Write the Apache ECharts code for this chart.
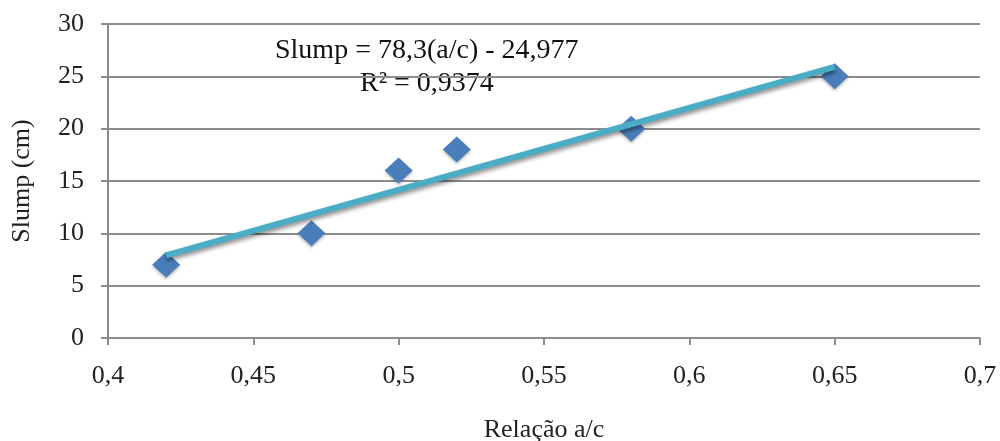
<!DOCTYPE html>
<html>
<head>
<meta charset="utf-8">
<script src="https://cdn.jsdelivr.net/npm/echarts@6/dist/echarts.min.js"></script>
<style>html,body{margin:0;padding:0;background:#fff}#c{width:1000px;height:441px}</style>
</head>
<body>
<div id="c"></div>
<script>
var ratioAC = [0.42, 0.47, 0.50, 0.52, 0.58, 0.65];
var slump = [7, 10, 16, 18, 20, 25];
var trendX = [0.42, 0.65];
var trendY = [7.9, 25.9];
var eqText = 'Slump = 78,3(a/c) - 24,977';
var r2Text = 'R² = 0,9374';

var pts = ratioAC.map(function (x, i) { return [x, slump[i]]; });
var trend = trendX.map(function (x, i) { return [x, trendY[i]]; });
var font = '"Liberation Serif", "Times New Roman", serif';
var chart = echarts.init(document.getElementById('c'));
chart.setOption({
  animation: false,
  backgroundColor: '#fff',
  grid: { left: 108, right: 20, top: 24, bottom: 103, containLabel: false, outerBoundsMode: 'none' },
  xAxis: {
    type: 'value', min: 0.4, max: 0.7, interval: 0.05,
    name: 'Relação a/c', nameLocation: 'middle', nameGap: 79,
    nameTextStyle: { fontFamily: font, fontSize: 26, color: '#222' },
    axisLine: { show: true, lineStyle: { color: '#8c8c8c', width: 2 } },
    axisTick: { show: true, length: 7, lineStyle: { color: '#8c8c8c', width: 2 } },
    splitLine: { show: false },
    axisLabel: { fontFamily: font, fontSize: 26, color: '#222', margin: 25,
      formatter: function (v) { return String(+v.toFixed(2)).replace('.', ','); } }
  },
  yAxis: {
    type: 'value', min: 0, max: 30, interval: 5,
    name: 'Slump (cm)', nameLocation: 'middle', nameGap: 73,
    nameTextStyle: { fontFamily: font, fontSize: 26, color: '#222' },
    axisLine: { show: true, lineStyle: { color: '#8c8c8c', width: 2 } },
    axisTick: { show: true, inside: false, length: 7, lineStyle: { color: '#8c8c8c', width: 2 } },
    splitLine: { show: true, lineStyle: { color: '#8c8c8c', width: 2 } },
    axisLabel: { fontFamily: font, fontSize: 26, color: '#222', margin: 24 }
  },
  series: [
    {
      type: 'scatter', data: pts, symbol: 'diamond', symbolSize: [28, 26],
      itemStyle: { color: '#4A7EBB', opacity: 1, shadowColor: 'rgba(0,0,0,0.25)', shadowBlur: 3, shadowOffsetY: 2 },
      z: 2
    },
    {
      type: 'line', data: trend, symbol: 'none',
      lineStyle: { color: '#4BACC6', width: 6, shadowColor: 'rgba(0,0,0,0.45)', shadowBlur: 4, shadowOffsetY: 3 },
      z: 3
    }
  ],
  graphic: [
    { type: 'text', left: 275, top: 37, style: { text: eqText, font: '28px ' + font, fill: '#111' } },
    { type: 'text', left: 360, top: 70, style: { text: r2Text, font: '28px ' + font, fill: '#111' } }
  ]
});
</script>
</body>
</html>
